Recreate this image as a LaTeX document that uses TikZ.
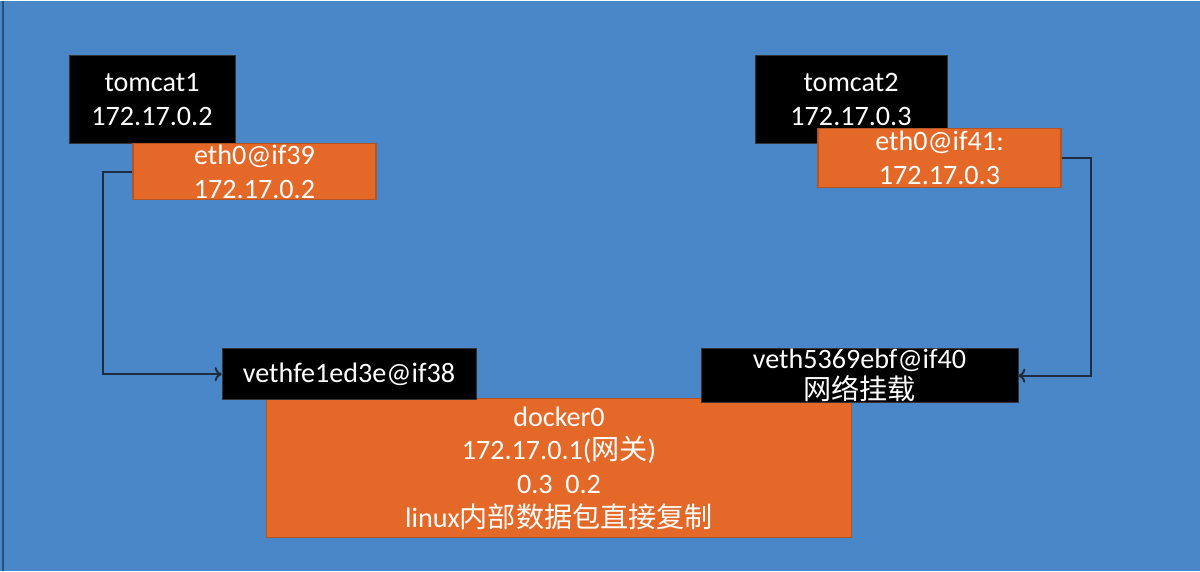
\documentclass[tikz,border=0pt]{standalone}
\usepackage{fontspec}
\setmainfont{Carlito}
\newfontfamily\cjk{Noto Sans CJK SC}
\usetikzlibrary{arrows.meta}
\definecolor{bgblue}{RGB}{74,135,200}
\definecolor{ppt orange}{RGB}{228,104,40}
\definecolor{orange edge}{RGB}{178,84,36}
\definecolor{wire}{RGB}{30,44,62}
\newcommand{\zh}[1]{{\cjk #1}}

\begin{document}
\begin{tikzpicture}[
  x=0.025cm, y=-0.025cm,
  every node/.style={text=white, align=center, inner sep=0pt,
    font=\fontsize{20}{24}\selectfont},
  blackbox/.style={fill=black, draw=black!80},
  orangebox/.style={fill=ppt orange, draw=orange edge, line width=0.8pt},
  link/.style={draw=wire, line width=1.4pt, -{To[length=5pt,width=10pt]}},
]
\fill[bgblue] (0,0) rectangle (1200,570);
\draw[bgblue!60!black, line width=1pt] (3,0) -- (3,570);
\useasboundingbox (0,0) rectangle (1200,570);

% containers
\node[blackbox, minimum width=4.15cm, minimum height=2.2cm] (tomcat1) at (152,99) {tomcat1\\172.17.0.2};
\node[orangebox, minimum width=6.075cm, minimum height=1.4cm] (eth39) at (254.5,171) {eth0@if39\\172.17.0.2};
\node[blackbox, minimum width=4.8cm, minimum height=2.2cm] (tomcat2) at (851,99) {tomcat2\\172.17.0.3};
\node[orangebox, minimum width=6.075cm, minimum height=1.475cm] (eth41) at (939.5,157.5) {eth0@if41:\\172.17.0.3};

% bridge
\node[orangebox, minimum width=14.6cm, minimum height=3.475cm] (docker0) at (559,467.5)
  {docker0\\172.17.0.1(\zh{网关})\\0.3\ \ 0.2\\linux\zh{内部数据包直接复制}};
\node[blackbox, minimum width=6.35cm, minimum height=1.275cm] (vethfe) at (349,373.5) {vethfe1ed3e@if38};
\node[blackbox, minimum width=7.925cm, minimum height=1.35cm] (veth53) at (859.5,375) {veth5369ebf@if40\\[-2pt]\zh{网络挂载}};

\draw[link] (eth39.west) -- ++(-29,0) |- (vethfe.west);
\draw[link] (eth41.east) -- ++(29,0) |- (veth53.east);
\end{tikzpicture}
\end{document}
